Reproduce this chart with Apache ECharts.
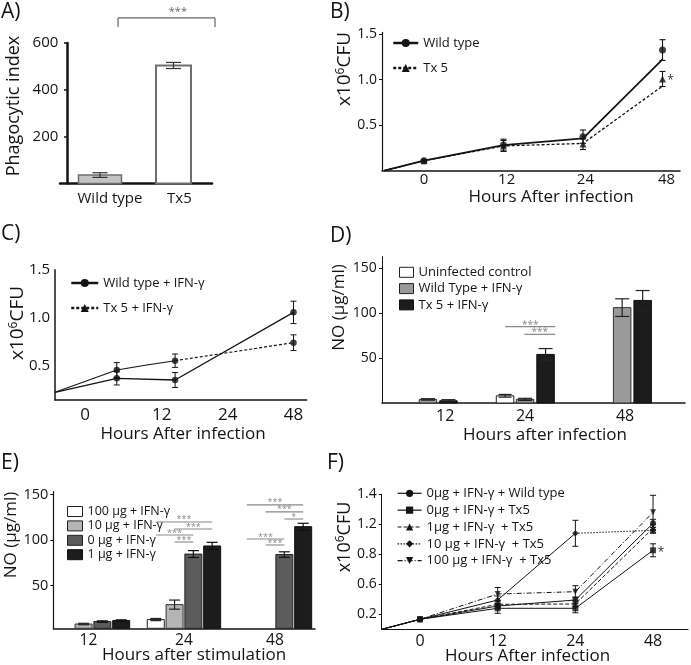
<!DOCTYPE html>
<html><head><meta charset="utf-8">
<script src="https://cdn.jsdelivr.net/npm/echarts@6/dist/echarts.min.js"></script>
<style>html,body{margin:0;padding:0;background:#fff}#c{width:691px;height:665px}</style>
</head><body><div id="c"></div>
<script>
// ---------------- DATA ----------------
// Panel A
const A_CATEGORIES = ['Wild type', 'Tx5'];
const A_X = [0, 1];
const A_VALUES = [36, 504];
const A_ERRORS = [10, 13];
const A_Y_TICKS = [200, 400, 600];
const A_Y_LABELS = ['200', '400', '600'];
const A_LABEL_POS = [0.136, 1.08];
const A_SIG = [[0.245, 1.565, 707, 668]];
const A_SIG_TEXT = ['***'];
const A_SIG_TEXT_X = [1.06];

// Panel B
const B_X_LABEL_POS = [0, 1.04, 2.03, 3.05];
const B_X_LABELS = ['0', '12', '24', '48'];
const B_Y_TICKS = [0.5, 1.0, 1.5];
const B_Y_LABELS = ['0.5', '1.0', '1.5'];
const B_X = [-0.5, 0, 1, 2, 3];
const B_WT_LINE = [0, 0.11, 0.282, 0.356, 1.224];
const B_WT_MARK = [null, 0.11, 0.282, 0.374, 1.326];
const B_WT_ERR = [null, 0.01, 0.064, 0.073, 0.114];
const B_TX5_LINE = [0, 0.11, 0.272, 0.30, 0.93];
const B_TX5_MARK = [null, 0.11, 0.272, 0.293, 1.008];
const B_TX5_ERR = [null, 0.01, 0.06, 0.06, 0.083];
const B_STAR = [[3, 1.008]];

// Panel C
const C_X_TICKS = [0, 1.105, 2.055, 3];
const C_X_LABELS = ['0', '12', '24', '48'];
const C_Y_TICKS = [0.5, 1.0, 1.5];
const C_Y_LABELS = ['0.5', '1.0', '1.5'];
const C_WT_X = [-0.432, 0.457, 1.296, 3];
const C_WT = [0.219, 0.366, 0.348, 1.055];
const C_WT_ERR = [null, 0.07, 0.078, 0.117];
const C_TX5_SOLID_X = [-0.432, 0.457, 0.888, 1.296];
const C_TX5_SOLID = [0.219, 0.452, 0.505, 0.55];
const C_TX5_DOT_X = [1.296, 3];
const C_TX5_DOT = [0.55, 0.738];
const C_TX5_MARK_X = [0.457, 1.296, 3];
const C_TX5_MARK = [0.452, 0.55, 0.738];
const C_TX5_ERR = [0.078, 0.07, 0.082];

// Panel D
const D_GROUP_X = [0, 1, 2];
const D_X_LABEL_POS = [0.178, 1.0, 2.03];
const D_X_LABELS = ['12', '24', '48'];
const D_Y_TICKS = [50, 100, 150];
const D_Y_LABELS = ['50', '100', '150'];
const D_UNINFECTED = [0, 8, 0];
const D_UNINFECTED_ERR = [0, 1.5, 0];
const D_WT = [4, 4, 106];
const D_WT_ERR = [0.8, 1.2, 9.8];
const D_TX5 = [2.5, 54, 114];
const D_TX5_ERR = [1.2, 6.5, 11];
const D_SIG = [[0.796, 1.311, 84.8], [0.992, 1.311, 76.3]];
const D_SIG_TEXT = ['***', '***'];

// Panel E
const E_GROUP_X = [0, 1, 2];
const E_X_LABEL_POS = [-0.05, 1, 2];
const E_X_LABELS = ['12', '24', '48'];
const E_Y_TICKS = [50, 100, 150];
const E_Y_LABELS = ['50', '100', '150'];
const E_100 = [0, 12.6, 0];
const E_100_ERR = [0, 1.2, 0];
const E_10 = [7.7, 29, 0];
const E_10_ERR = [0.8, 5, 0];
const E_0 = [10.4, 84.5, 84];
const E_0_ERR = [0.8, 3.8, 3];
const E_1 = [11.5, 93.4, 114.6];
const E_1_ERR = [0.8, 4, 3.7];
const E_SIG = [[0.69, 1.31, 119.8], [0.897, 1.31, 112], [0.69, 1.103, 105.5], [0.897, 1.103, 97.8],
               [1.69, 2.31, 138.5], [1.897, 2.31, 130.8], [2.103, 2.31, 123], [1.69, 2.103, 101], [1.897, 2.103, 94.5]];
const E_SIG_TEXT = ['***', '***', '***', '***', '***', '***', '*', '***', '***'];

// Panel F
const F_X_TICKS = [0, 1, 2, 3];
const F_X_LABELS = ['0', '12', '24', '48'];
const F_Y_TICKS = [0.2, 0.5, 0.8, 1.1, 1.4];
const F_Y_LABELS = ['0.2', '0.6', '0.8', '1.2', '1.4'];
const F_X = [-0.49, 0, 1, 2, 3];
const F_WT0 = [0.05, 0.15, 0.283, 0.343, 1.11];
const F_WT0_ERR = [null, 0.01, 0.03, 0.03, 0.04];
const F_TX0 = [0.05, 0.15, 0.26, 0.26, 0.84];
const F_TX0_ERR = [null, 0.01, 0.05, 0.045, 0.065];
const F_TX1 = [0.05, 0.15, 0.30, 0.303, 1.06];
const F_TX1_ERR = [null, 0.01, 0.03, 0.03, 0.04];
const F_TX10 = [0.05, 0.15, 0.343, 1.01, 1.04];
const F_TX10_ERR = [null, 0.01, 0.04, 0.13, 0.03];
const F_TX100 = [0.05, 0.15, 0.403, 0.426, 1.22];
const F_TX100_ERR = [null, 0.01, 0.065, 0.06, 0.17];
const F_STAR = [[3, 0.84]];

// ---------------- HELPERS ----------------
const FONT = '"Open Sans", "Noto Sans", sans-serif';
const INK = '#141414';
const TXT = '#141414';

function labelFor(pos, labels) {
  return function (v) {
    for (let i = 0; i < pos.length; i++) if (Math.abs(pos[i] - v) < 1e-6) return labels[i];
    return '';
  };
}
function axis(gi, min, max, ticks, labels, o) {
  return {
    type: 'value', gridIndex: gi, min: min, max: max, offset: o.offset || 0,
    splitLine: { show: false },
    axisLine: { show: true, onZero: false, lineStyle: { color: INK, width: o.lw } },
    axisTick: { show: !!o.tick, length: o.tick || 3, customValues: ticks, lineStyle: { color: INK, width: o.tickW || 1 } },
    axisLabel: { customValues: ticks, formatter: labelFor(ticks, labels), margin: o.margin,
                 fontSize: o.fs, fontFamily: FONT, color: TXT }
  };
}
function pairs(xs, ys) {
  const d = [];
  xs.forEach((x, i) => { if (ys[i] !== null && ys[i] !== undefined) d.push([x, ys[i]]); });
  return d;
}
function lineSeries(gi, name, xs, ys, o) {
  return {
    type: 'line', name: name, xAxisIndex: gi, yAxisIndex: gi, data: pairs(xs, ys),
    symbol: o.symbol || 'circle', symbolSize: o.size || 7, showSymbol: false,
    lineStyle: { color: INK, width: o.width, type: o.dash || 'solid' },
    itemStyle: { color: INK }, silent: true, z: 3
  };
}
function markerSeries(gi, xs, ys, symbol, size) {
  return { type: 'scatter', xAxisIndex: gi, yAxisIndex: gi, data: pairs(xs, ys),
           symbol: symbol, symbolSize: size, itemStyle: { color: INK }, silent: true, z: 4 };
}
function errorSeries(gi, xs, ys, es, cap, lw) {
  const data = [];
  xs.forEach((x, i) => { if (es[i]) data.push([x, ys[i], es[i]]); });
  return { type: 'custom', xAxisIndex: gi, yAxisIndex: gi, data: data, silent: true, z: 5,
    renderItem: function (p, api) {
      const x = api.value(0), y = api.value(1), e = api.value(2);
      const hi = api.coord([x, y + e]), lo = api.coord([x, y - e]);
      const st = { stroke: INK, lineWidth: lw };
      const c = cap / 2;
      return { type: 'group', children: [
        { type: 'line', shape: { x1: hi[0], y1: hi[1], x2: lo[0], y2: lo[1] }, style: st },
        { type: 'line', shape: { x1: hi[0] - c, y1: hi[1], x2: hi[0] + c, y2: hi[1] }, style: st },
        { type: 'line', shape: { x1: lo[0] - c, y1: lo[1], x2: lo[0] + c, y2: lo[1] }, style: st }
      ] };
    } };
}
function barSeries(gi, name, xs, vs, es, o) {
  return { type: 'custom', name: name, xAxisIndex: gi, yAxisIndex: gi,
    data: xs.map((x, i) => [x, vs[i], es[i]]), silent: true, z: 2,
    itemStyle: { color: o.fill, borderColor: o.stroke },
    renderItem: function (p, api) {
      const x = api.value(0), v = api.value(1), e = api.value(2);
      if (!(v > 0)) return null;
      const cs = p.coordSys, base = cs.y + cs.height;
      const top = api.coord([x, v]);
      const w = o.width, cx = top[0] + (o.offset || 0);
      const ch = [{ type: 'rect', shape: { x: cx - w / 2, y: top[1], width: w, height: base - top[1] },
                    style: { fill: o.fill, stroke: o.stroke, lineWidth: o.lw } }];
      if (e > 0) {
        const hi = api.coord([x, v + e])[1], lo = api.coord([x, v - e])[1];
        const st = { stroke: o.err, lineWidth: o.errW || 1.2 };
        const c = o.cap / 2;
        ch.push({ type: 'line', shape: { x1: cx, y1: hi, x2: cx, y2: lo }, style: st });
        ch.push({ type: 'line', shape: { x1: cx - c, y1: hi, x2: cx + c, y2: hi }, style: st });
        ch.push({ type: 'line', shape: { x1: cx - c, y1: lo, x2: cx + c, y2: lo }, style: st });
      }
      return { type: 'group', children: ch };
    } };
}
function sigSeries(gi, rows, texts, o) {
  return { type: 'custom', xAxisIndex: gi, yAxisIndex: gi, data: rows, silent: true, z: 6,
    renderItem: function (p, api) {
      const x1 = api.value(0), x2 = api.value(1), y = api.value(2);
      const a = api.coord([x1, y]), b = api.coord([x2, y]);
      const ch = [{ type: 'line', shape: { x1: a[0], y1: a[1], x2: b[0], y2: b[1] },
                    style: { stroke: o.color, lineWidth: o.lw } }];
      if (o.drop !== undefined) {
        const d = api.coord([x1, o.drop])[1];
        ch.push({ type: 'line', shape: { x1: a[0], y1: a[1], x2: a[0], y2: d }, style: { stroke: o.color, lineWidth: o.lw } });
        ch.push({ type: 'line', shape: { x1: b[0], y1: b[1], x2: b[0], y2: d }, style: { stroke: o.color, lineWidth: o.lw } });
      }
      const tx = o.textX ? api.coord([o.textX[p.dataIndex], y])[0] : (a[0] + b[0]) / 2;
      ch.push({ type: 'text', style: { text: texts[p.dataIndex], x: tx, y: a[1] - (o.dy || 2),
                fontSize: o.fs || 11, fontFamily: FONT, fill: o.color, align: 'center', verticalAlign: 'middle' } });
      return { type: 'group', children: ch };
    } };
}
function starSeries(gi, pts, dx) {
  return { type: 'custom', xAxisIndex: gi, yAxisIndex: gi, data: pts, silent: true, z: 6,
    renderItem: function (p, api) {
      const c = api.coord([api.value(0), api.value(1)]);
      return { type: 'text', style: { text: '*', x: c[0] + dx, y: c[1] + 2, fontSize: 12, fontFamily: FONT,
               fill: '#333', align: 'center', verticalAlign: 'middle' } };
    } };
}
function txt(x, y, text, fs, o) {
  o = o || {};
  return { type: 'text', x: x, y: y, rotation: o.rot ? Math.PI / 2 : 0, silent: true,
    style: { text: text, fontSize: fs, fontFamily: FONT, fill: TXT, align: o.align || 'center',
             verticalAlign: 'middle', rich: o.rich } };
}
function cfu(fs) {
  return { text: '{a|x10}{s|6}{a|CFU}', rich: {
    a: { fontSize: fs, fontFamily: FONT, fill: TXT, lineHeight: fs + 2 },
    s: { fontSize: Math.round(fs * 0.65), fontFamily: FONT, fill: TXT, lineHeight: fs + 2, verticalAlign: 'top' } } };
}
const stripName = n => n.slice(2);
function legend(left, top, names, o) {
  return { show: true, left: left, top: top, orient: 'vertical', padding: 0, selectedMode: false,
    itemWidth: o.iw, itemHeight: o.ih, itemGap: o.gap, data: names, formatter: stripName,
    textStyle: { fontSize: o.fs, fontFamily: FONT, color: TXT, lineHeight: o.lh },
    lineStyle: o.lw ? { width: o.lw } : undefined };
}

// ---------------- OPTION ----------------
const grid = [
  { left: 60, top: 43, width: 152, height: 140.5, outerBoundsMode: 'none' },
  { left: 382, top: 32.4, width: 298, height: 138.3, outerBoundsMode: 'none' },
  { left: 55, top: 269.8, width: 251.7, height: 130.2, outerBoundsMode: 'none' },
  { left: 382, top: 256.7, width: 303, height: 146.3, outerBoundsMode: 'none' },
  { left: 53.3, top: 491.7, width: 261.7, height: 136.6, outerBoundsMode: 'none' },
  { left: 381.7, top: 494.3, width: 306.3, height: 135, outerBoundsMode: 'none' }
];
const xAxis = [
  axis(0, -0.544, 1.524, A_LABEL_POS, A_CATEGORIES, { lw: 2.5, margin: 8, fs: 15 }),
  axis(1, -0.528, 3.22, B_X_LABEL_POS, B_X_LABELS, { lw: 1.5, margin: 1.5, fs: 15 }),
  axis(2, -0.432, 3.19, C_X_TICKS, C_X_LABELS, { lw: 1.5, margin: 6.5, fs: 17 }),
  axis(3, -0.473, 2.647, D_X_LABEL_POS, D_X_LABELS, { lw: 1.5, margin: 5.7, fs: 16 }),
  axis(4, -0.436, 2.44, E_X_LABEL_POS, E_X_LABELS, { lw: 1.5, margin: 4.2, fs: 15.5 }),
  axis(5, -0.493, 3.45, F_X_TICKS, F_X_LABELS, { lw: 1.2, margin: 4.4, fs: 16 })
];
const yAxis = [
  axis(0, 0, 600, A_Y_TICKS, A_Y_LABELS, { lw: 2.5, margin: 8.7, fs: 15, tick: 3, tickW: 1.5, offset: -7 }),
  axis(1, 0, 1.52, B_Y_TICKS, B_Y_LABELS, { lw: 1.2, margin: 5, fs: 14, tick: 3 }),
  axis(2, 0.139, 1.5, C_Y_TICKS, C_Y_LABELS, { lw: 1.5, margin: 5, fs: 15 }),
  axis(3, 0, 162.6, D_Y_TICKS, D_Y_LABELS, { lw: 1, margin: 5.3, fs: 14, tick: 3 }),
  axis(4, 3, 153, E_Y_TICKS, E_Y_LABELS, { lw: 1.2, margin: 5, fs: 14.5, tick: 3 }),
  axis(5, 0.05, 1.4, F_Y_TICKS, F_Y_LABELS, { lw: 1, margin: 5, fs: 14, tick: 3 })
];

const DOWN_TRI = 'path://M0,0L10,0L5,9Z';
const series = [
  // A
  barSeries(0, 'A|wt', [A_X[0]], [A_VALUES[0]], [A_ERRORS[0]], { fill: '#c4c4c4', stroke: '#6e6e6e', lw: 1.5, width: 43, err: '#333', cap: 15 }),
  barSeries(0, 'A|tx5', [A_X[1]], [A_VALUES[1]], [A_ERRORS[1]], { fill: '#ffffff', stroke: '#6e6e6e', lw: 2, width: 35, err: '#333', cap: 15 }),
  sigSeries(0, A_SIG, A_SIG_TEXT, { color: '#666', lw: 1.2, drop: 668, textX: A_SIG_TEXT_X, dy: 6, fs: 11 }),
  // B
  lineSeries(1, 'B|Wild type', B_X, B_WT_LINE, { width: 1.8, symbol: 'circle' }),
  lineSeries(1, 'B|Tx 5', B_X, B_TX5_LINE, { width: 1.3, dash: [3, 2], symbol: 'triangle' }),
  markerSeries(1, B_X, B_WT_MARK, 'circle', 7),
  markerSeries(1, B_X, B_TX5_MARK, 'triangle', 7),
  errorSeries(1, B_X, B_WT_MARK, B_WT_ERR, 6, 1.1),
  errorSeries(1, B_X, B_TX5_MARK, B_TX5_ERR, 6, 1.1),
  starSeries(1, B_STAR, 8),
  // C
  lineSeries(2, 'C|Wild type + IFN-γ', C_WT_X, C_WT, { width: 1.3, symbol: 'circle' }),
  lineSeries(2, 'C|tx5solid', C_TX5_SOLID_X, C_TX5_SOLID, { width: 1.1, symbol: 'none' }),
  lineSeries(2, 'C|Tx 5 + IFN-γ', C_TX5_DOT_X, C_TX5_DOT, { width: 1.2, dash: [3, 2], symbol: 'triangle' }),
  markerSeries(2, C_WT_X.slice(1), C_WT.slice(1), 'circle', 6.5),
  markerSeries(2, C_TX5_MARK_X, C_TX5_MARK, 'circle', 6.5),
  errorSeries(2, C_WT_X, C_WT, C_WT_ERR, 6, 1),
  errorSeries(2, C_TX5_MARK_X, C_TX5_MARK, C_TX5_ERR, 6, 1),
  // D
  barSeries(3, 'D|Uninfected control', D_GROUP_X, D_UNINFECTED, D_UNINFECTED_ERR, { fill: '#ffffff', stroke: '#222', lw: 1, width: 17.5, offset: -20, err: '#222', cap: 13 }),
  barSeries(3, 'D|Wild Type + IFN-γ', D_GROUP_X, D_WT, D_WT_ERR, { fill: '#9a9a9a', stroke: '#333', lw: 1, width: 17.5, offset: 0, err: '#222', cap: 14 }),
  barSeries(3, 'D|Tx 5 + IFN-γ', D_GROUP_X, D_TX5, D_TX5_ERR, { fill: '#1c1c1c', stroke: '#111', lw: 1, width: 17.5, offset: 20.5, err: '#222', cap: 14 }),
  sigSeries(3, D_SIG, D_SIG_TEXT, { color: '#888', lw: 1.2, dy: 2, fs: 10 }),
  // E
  barSeries(4, 'E|100 µg + IFN-γ', E_GROUP_X, E_100, E_100_ERR, { fill: '#ffffff', stroke: '#222', lw: 1, width: 17, offset: -28.2, err: '#222', cap: 11 }),
  barSeries(4, 'E|10 µg + IFN-γ', E_GROUP_X, E_10, E_10_ERR, { fill: '#b5b5b5', stroke: '#333', lw: 1, width: 17, offset: -9.4, err: '#222', cap: 11 }),
  barSeries(4, 'E|0 µg + IFN-γ', E_GROUP_X, E_0, E_0_ERR, { fill: '#5c5c5c', stroke: '#222', lw: 1, width: 17, offset: 9.4, err: '#111', cap: 11 }),
  barSeries(4, 'E|1 µg + IFN-γ', E_GROUP_X, E_1, E_1_ERR, { fill: '#1c1c1c', stroke: '#111', lw: 1, width: 17, offset: 28.2, err: '#111', cap: 11 }),
  sigSeries(4, E_SIG, E_SIG_TEXT, { color: '#888', lw: 1.1, dy: 2, fs: 9 }),
  // F
  lineSeries(5, 'F|0µg + IFN-γ + Wild type', F_X, F_WT0, { width: 1, symbol: 'circle' }),
  lineSeries(5, 'F|0µg + IFN-γ + Tx5', F_X, F_TX0, { width: 1, symbol: 'rect' }),
  lineSeries(5, 'F|1µg + IFN-γ  + Tx5', F_X, F_TX1, { width: 1, dash: [4, 2], symbol: 'triangle' }),
  lineSeries(5, 'F|tx10solid', F_X.slice(0, 4), F_TX10.slice(0, 4), { width: 1, symbol: 'none' }),
  lineSeries(5, 'F|10 µg + IFN-γ  + Tx5', F_X.slice(3), F_TX10.slice(3), { width: 1, dash: [1.5, 1.5], symbol: 'diamond' }),
  lineSeries(5, 'F|100 µg + IFN-γ  + Tx5', F_X, F_TX100, { width: 1, dash: [5, 2, 1, 2], symbol: DOWN_TRI }),
  markerSeries(5, F_X.slice(1), F_WT0.slice(1), 'circle', 6),
  markerSeries(5, F_X.slice(1), F_TX0.slice(1), 'rect', 6),
  markerSeries(5, F_X.slice(1), F_TX1.slice(1), 'triangle', 6),
  markerSeries(5, F_X.slice(1), F_TX10.slice(1), 'diamond', 6.5),
  markerSeries(5, F_X.slice(1), F_TX100.slice(1), DOWN_TRI, 6),
  errorSeries(5, F_X, F_WT0, F_WT0_ERR, 6, 1),
  errorSeries(5, F_X, F_TX0, F_TX0_ERR, 6, 1),
  errorSeries(5, F_X, F_TX1, F_TX1_ERR, 6, 1),
  errorSeries(5, F_X, F_TX10, F_TX10_ERR, 6, 1),
  errorSeries(5, F_X, F_TX100, F_TX100_ERR, 6, 1),
  starSeries(5, F_STAR, 8)
];

const legends = [
  legend(392, 36, ['B|Wild type', 'B|Tx 5'], { iw: 25, ih: 10, gap: 11, fs: 13, lh: 14, lw: 2.5 }),
  legend(70, 276, ['C|Wild type + IFN-γ', 'C|Tx 5 + IFN-γ'], { iw: 27, ih: 10, gap: 11, fs: 13, lh: 14, lw: 2.5 }),
  legend(399, 265.3, [
    { name: 'D|Uninfected control', icon: 'rect', itemStyle: { color: '#ffffff', borderColor: '#222', borderWidth: 1 } },
    { name: 'D|Wild Type + IFN-γ', icon: 'rect', itemStyle: { color: '#9a9a9a', borderColor: '#222', borderWidth: 1 } },
    { name: 'D|Tx 5 + IFN-γ', icon: 'rect', itemStyle: { color: '#1c1c1c', borderColor: '#111', borderWidth: 1 } }
  ], { iw: 14, ih: 10, gap: 2.3, fs: 13, lh: 14 }),
  legend(67, 505, [
    { name: 'E|100 µg + IFN-γ', icon: 'rect', itemStyle: { color: '#ffffff', borderColor: '#222', borderWidth: 1 } },
    { name: 'E|10 µg + IFN-γ', icon: 'rect', itemStyle: { color: '#b5b5b5', borderColor: '#222', borderWidth: 1 } },
    { name: 'E|0 µg + IFN-γ', icon: 'rect', itemStyle: { color: '#5c5c5c', borderColor: '#222', borderWidth: 1 } },
    { name: 'E|1 µg + IFN-γ', icon: 'rect', itemStyle: { color: '#1c1c1c', borderColor: '#111', borderWidth: 1 } }
  ], { iw: 15, ih: 10, gap: 1.4, fs: 12.5, lh: 13 }),
  legend(397, 486.3, ['F|0µg + IFN-γ + Wild type', 'F|0µg + IFN-γ + Tx5', 'F|1µg + IFN-γ  + Tx5',
                      'F|10 µg + IFN-γ  + Tx5', 'F|100 µg + IFN-γ  + Tx5'],
         { iw: 24, ih: 9, gap: 2.85, fs: 13, lh: 14, lw: 1.2 })
];

const c19 = cfu(19), c18 = cfu(18);
const graphic = [
  txt(1, 12.5, 'A)', 21, { align: 'left' }),
  txt(330, 12.5, 'B)', 21, { align: 'left' }),
  txt(1, 234, 'C)', 21, { align: 'left' }),
  txt(330, 236.5, 'D)', 21, { align: 'left' }),
  txt(1, 463, 'E)', 21, { align: 'left' }),
  txt(327, 463.5, 'F)', 21, { align: 'left' }),
  txt(13.5, 106, 'Phagocytic index', 18, { rot: true }),
  txt(345, 69, c19.text, 19, { rot: true, rich: c19.rich }),
  txt(551, 197, 'Hours After infection', 17),
  txt(18, 323, c19.text, 19, { rot: true, rich: c19.rich }),
  txt(183, 434, 'Hours After infection', 17),
  txt(339, 307.5, 'NO (µg/ml)', 17, { rot: true }),
  txt(545, 435, 'Hours after infection', 17),
  txt(11, 535, 'NO (µg/ml)', 17, { rot: true }),
  txt(194, 655.5, 'Hours after stimulation', 17),
  txt(345, 537, c18.text, 18, { rot: true, rich: c18.rich }),
  txt(527.5, 656.5, 'Hours After infection', 17)
];

const chart = echarts.init(document.getElementById('c'), null, { renderer: 'canvas' });
chart.setOption({
  backgroundColor: '#ffffff',
  animation: false,
  textStyle: { fontFamily: FONT },
  grid: grid, xAxis: xAxis, yAxis: yAxis, series: series, legend: legends, graphic: graphic
});
</script></body></html>
